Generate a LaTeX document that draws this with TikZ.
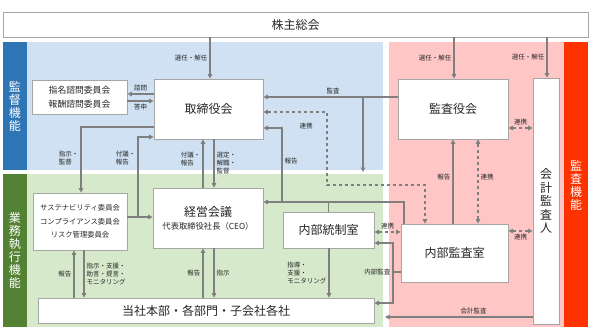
\documentclass[tikz,border=0pt]{standalone}
\usepackage{fontspec}
\setmainfont{Noto Sans CJK JP}
\usepackage{xcolor}
\usepackage{tikz}
\usetikzlibrary{arrows.meta,positioning}
\definecolor{supblue}{HTML}{2E75B6}
\definecolor{suplight}{HTML}{CFE1F2}
\definecolor{exegreen}{HTML}{548235}
\definecolor{exelight}{HTML}{D6E9CB}
\definecolor{audred}{HTML}{FF3300}
\definecolor{audlight}{HTML}{FFC6C6}
\definecolor{boxgray}{HTML}{A6A6A6}
\definecolor{linegray}{HTML}{7F7F7F}
\tikzset{
  orgbox/.style={draw=boxgray,fill=white,line width=0.8pt,align=center,inner sep=0pt,
    text=black!85,font=\fontsize{12}{14}\selectfont},
  flowarrow/.style={-{Triangle[length=4.5pt,width=4.5pt]},draw=linegray,line width=1.4pt},
  flowline/.style={draw=linegray,line width=1.4pt},
  linkarrow/.style={{Triangle[length=4.5pt,width=4.5pt]}-{Triangle[length=4.5pt,width=4.5pt]},
    draw=linegray,line width=1.4pt,dash pattern=on 3.5pt off 2.5pt},
  smalllabel/.style={font=\fontsize{6.5}{8}\selectfont,align=left,inner sep=2pt,text=black!85},
  sidelabel/.style={text=white,font=\fontsize{12}{13}\selectfont,align=center,inner sep=0pt}
}
\begin{document}
\begin{tikzpicture}[x=1pt,y=-1pt]
  \useasboundingbox (0,0) rectangle (591,335);
  % areas
  \fill[suplight] (27,42) rectangle (383,170);
  \fill[supblue] (3,42) rectangle (27,170);
  \fill[exelight] (27,174) rectangle (383,327);
  \fill[exegreen] (3,174) rectangle (27,327);
  \fill[audlight] (389,42) rectangle (564,327);
  \fill[audred] (564,42) rectangle (588,327);
  \node[sidelabel] (sup-label) at (15,106) {監\\督\\機\\能};
  \node[sidelabel] (exe-label) at (15,250) {業\\務\\執\\行\\機\\能};
  \node[sidelabel] (aud-label) at (576,185) {監\\査\\機\\能};

  % boxes
  \node[orgbox,minimum width=585pt,minimum height=25pt] (share) at (295.5,24.5) {株主総会};
  \node[orgbox,minimum width=95pt,minimum height=34pt,font=\fontsize{8.8}{14}\selectfont]
    (nomi) at (79.5,97) {指名諮問委員会\\報酬諮問委員会};
  \node[orgbox,minimum width=109pt,minimum height=60pt] (board) at (208.5,109) {取締役会};
  \node[orgbox,minimum width=110pt,minimum height=60pt] (kansayaku) at (453,109) {監査役会};
  \node[orgbox,minimum width=26pt,minimum height=246pt,font=\fontsize{12}{13.5}\selectfont]
    (auditor) at (546,201) {会\\計\\監\\査\\人};
  \node[orgbox,minimum width=94pt,minimum height=57pt,font=\fontsize{7.3}{13.5}\selectfont]
    (susta) at (80,221.5) {サステナビリティ委員会\\コンプライアンス委員会\\リスク管理委員会};
  \node[orgbox,minimum width=110pt,minimum height=60pt] (mgmt) at (208,218)
    {経営会議\\[-1pt]{\fontsize{8.3}{10}\selectfont 代表取締役社長（CEO）}};
  \node[orgbox,minimum width=91pt,minimum height=36pt] (ic) at (328.5,230) {内部統制室};
  \node[orgbox,minimum width=107pt,minimum height=58pt] (ia) at (454.5,253) {内部監査室};
  \node[orgbox,minimum width=336pt,minimum height=25pt] (units) at (206,310.5) {当社本部・各部門・子会社各社};

  % shareholders
  \draw[flowarrow] (share.south -| 210,0) -- node[smalllabel,left]{選任・解任} (board.north -| 210,0);
  \draw[flowarrow] (share.south -| 454,0) -- node[smalllabel,left]{選任・解任} (kansayaku.north -| 454,0);
  \draw[flowarrow] (share.south -| 547,0) -- node[smalllabel,left]{選任・解任} (auditor.north -| 547,0);

  % board
  \draw[flowarrow] (board.west |- 0,94) -- node[smalllabel,above]{諮問} (nomi.east |- 0,94);
  \draw[flowarrow] (nomi.east |- 0,101) -- node[smalllabel,below]{答申} (board.west |- 0,101);
  \draw[flowarrow] (board.west |- 0,127) -| node[smalllabel,pos=0.74,left]{指示・\\監督} (susta.north -| 81,0);
  \coordinate (sj) at (138,217);
  \draw[flowarrow] (susta.east |- sj) -- (mgmt.west |- sj);
  \draw[flowarrow] (sj) |- node[smalllabel,pos=0.37,left]{付議・\\報告} (board.west |- 0,137);
  \draw[flowarrow] (mgmt.north -| 203,0) -- node[smalllabel,pos=0.6,left]{付議・\\報告} (board.south -| 203,0);
  \draw[flowarrow] (board.south -| 214,0) -- node[smalllabel,right]{選定・\\解職・\\監督} (mgmt.north -| 214,0);

  % audit
  \draw[flowarrow] (kansayaku.west |- 0,97) -- node[smalllabel,above,pos=0.48]{監査} (board.east |- 0,97);
  \coordinate (kb) at (363,97);
  \coordinate (kg) at (363,172);
  \draw[flowarrow] (kb) -- (kg);
  \coordinate (la) at (327,185);
  \draw[linkarrow] (board.east |- 0,112) -| (la) -| (ia.north -| 425,0);
  \node[smalllabel] (link-board) at (306,126) {連携};
  \coordinate (rj) at (282,202);
  \draw[flowarrow] (ia.north -| 404,0) |- (mgmt.east |- rj);
  \draw[flowarrow] (rj) |- node[smalllabel,pos=0.28,right]{報告} (board.east |- 0,128);
  \draw[flowline] (ic.north) -- (ic.north |- rj);
  \draw[flowarrow] (ia.north -| 453,0) -- node[smalllabel,pos=0.55,left]{報告} (kansayaku.south -| 453,0);
  \draw[linkarrow] (ia.north -| 478,0) -- node[smalllabel,pos=0.55,right]{連携} (kansayaku.south -| 478,0);
  \draw[linkarrow] (kansayaku.east |- 0,128) -- node[smalllabel,above]{連携} (auditor.west |- 0,128);
  \draw[linkarrow] (ia.east |- 0,231) -- node[smalllabel,below]{連携} (auditor.west |- 0,231);
  \draw[linkarrow] (ic.east |- 0,232) -- node[smalllabel,above]{連携} (ia.west |- 0,232);
  \coordinate (iaj) at (393,272);
  \draw[flowline] (ia.west |- iaj) -- node[smalllabel,at end,left]{内部監査} (iaj);
  \draw[flowarrow] (iaj) |- (ic.east |- 0,243);
  \draw[flowarrow] (iaj) |- (units.east |- 0,303);
  \coordinate (ua) at (385,317);
  \draw[flowarrow] (auditor.west |- ua) -- node[smalllabel,above,pos=0.4]{会計監査} (ua);

  % execution
  \draw[flowarrow] (ic.south -| 329,0) -- node[smalllabel,left]{指導・\\支援・\\モニタリング} (units.north -| 329,0);
  \draw[flowarrow] (units.north -| 74,0) -- node[smalllabel,left]{報告} (susta.south -| 74,0);
  \draw[flowarrow] (susta.south -| 84,0) -- node[smalllabel,right]{指示・支援・\\助言・提言・\\モニタリング} (units.north -| 84,0);
  \draw[flowarrow] (units.north -| 203,0) -- node[smalllabel,left]{報告} (mgmt.south -| 203,0);
  \draw[flowarrow] (mgmt.south -| 214,0) -- node[smalllabel,right]{指示} (units.north -| 214,0);
\end{tikzpicture}
\end{document}
